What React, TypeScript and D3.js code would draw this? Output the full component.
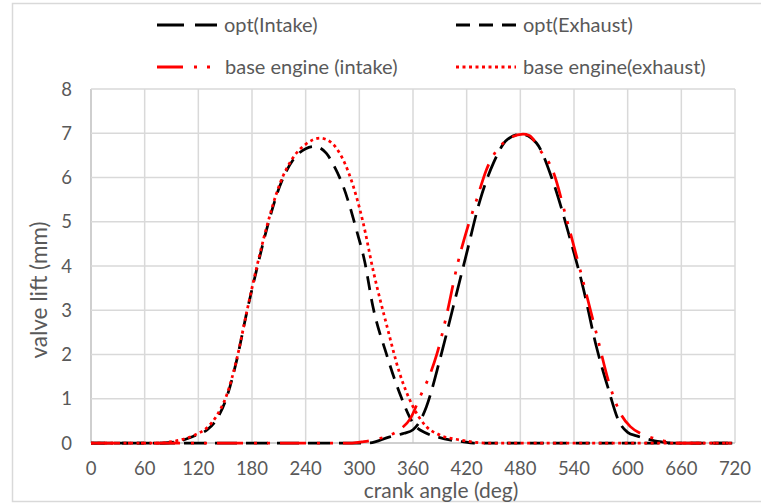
import React from 'react';
import * as d3 from 'd3';

// crank angle (deg) / valve lift (mm)
const optIntakeDeg = [0, 310, 334, 350, 360, 368, 375, 390, 405, 420, 435, 450, 465, 481, 498, 516, 535, 550, 565, 578, 590, 600, 610, 620, 630, 640, 648, 720];
const optIntakeLift = [0, 0, 0.14, 0.22, 0.3, 0.5, 0.82, 1.88, 3.08, 4.29, 5.49, 6.33, 6.85, 6.98, 6.78, 5.94, 4.66, 3.53, 2.18, 1.25, 0.5, 0.24, 0.16, 0.1, 0.05, 0.02, 0, 0];

const optExhaustDeg = [0, 80, 96, 108, 118, 130, 140, 152, 163, 174, 185, 196, 211, 226, 240, 250, 263, 272, 282, 297, 306, 315, 330, 345, 360, 375, 390, 401, 415, 428, 720];
const optExhaustLift = [0, 0, 0.03, 0.1, 0.18, 0.3, 0.52, 1.05, 1.88, 2.94, 3.9, 4.8, 5.8, 6.4, 6.65, 6.7, 6.55, 6.25, 5.8, 4.8, 4.1, 3.1, 2.03, 1.13, 0.45, 0.22, 0.12, 0.07, 0.03, 0, 0];

const baseIntakeDeg = [0, 292, 305, 318, 332, 345, 357, 368, 379, 387, 398, 410, 420, 431, 442, 461, 483, 490, 502, 516, 532, 547, 565, 580, 593, 603, 614, 627, 640, 652, 720];
const baseIntakeLift = [0, 0, 0.03, 0.08, 0.16, 0.3, 0.55, 1.05, 1.55, 2.03, 2.93, 4.06, 4.8, 5.49, 6.17, 6.78, 6.98, 6.95, 6.62, 6.17, 5.04, 3.9, 2.48, 1.3, 0.63, 0.37, 0.22, 0.12, 0.05, 0, 0];

const baseExhaustDeg = [0, 78, 90, 104, 118, 130, 140, 152, 163, 174, 185, 196, 211, 226, 240, 256, 268, 278, 290, 304, 316, 331, 345, 360, 375, 390, 412, 428, 440, 720];
const baseExhaustLift = [0, 0, 0.03, 0.09, 0.2, 0.35, 0.6, 1.1, 1.9, 2.95, 3.95, 4.85, 5.85, 6.45, 6.75, 6.89, 6.8, 6.55, 6.0, 5.0, 3.85, 2.63, 1.58, 0.82, 0.37, 0.18, 0.07, 0.02, 0, 0];

const xTicks = [0, 60, 120, 180, 240, 300, 360, 420, 480, 540, 600, 660, 720];
const yTicks = [0, 1, 2, 3, 4, 5, 6, 7, 8];

const series = [
  { name: 'opt(Intake)', deg: optIntakeDeg, lift: optIntakeLift, color: '#000', dash: '22,9' },
  { name: 'opt(Exhaust)', deg: optExhaustDeg, lift: optExhaustLift, color: '#000', dash: '14,9' },
  { name: 'base engine (intake)', deg: baseIntakeDeg, lift: baseIntakeLift, color: '#ff0000', dash: '26,11,3,10,3,10' },
  { name: 'base engine(exhaust)', deg: baseExhaustDeg, lift: baseExhaustLift, color: '#ff0000', dash: '3,3.5' },
];

const W = 761;
const H = 504;
const margin = { top: 89, right: 26, bottom: 61, left: 91 };
const font = 'Lato, "Open Sans", sans-serif';
const textColor = '#595959';
const gridColor = '#d9d9d9';

const App = () => {
  const x = d3.scaleLinear().domain([0, 720]).range([margin.left, W - margin.right]);
  const y = d3.scaleLinear().domain([0, 8]).range([H - margin.bottom, margin.top]);

  const line = d3.line<[number, number]>()
    .x(d => x(d[0]))
    .y(d => y(d[1]))
    .curve(d3.curveMonotoneX);

  // legend placement: two columns, two rows
  const legendPos = [
    { x: 157, y: 25 },
    { x: 456, y: 25 },
    { x: 157, y: 67 },
    { x: 456, y: 67 },
  ];

  return (
    <svg width={W} height={H} style={{ position: 'absolute', left: 0, top: 0, background: '#fff' }}>
      <rect x={12.5} y={3.5} width={800} height={498} fill="#fff" stroke={gridColor} strokeWidth={1.5} />

      {/* grid */}
      {xTicks.map(t => (
        <line key={'gx' + t} x1={x(t)} x2={x(t)} y1={y(8)} y2={y(0)}
          stroke={t === 0 ? '#bfbfbf' : gridColor} strokeWidth={1.5} />
      ))}
      {yTicks.map(t => (
        <line key={'gy' + t} x1={x(0)} x2={x(720)} y1={y(t)} y2={y(t)}
          stroke={t === 0 ? '#bfbfbf' : gridColor} strokeWidth={1.5} />
      ))}

      {/* tick labels */}
      {xTicks.map(t => (
        <text key={'tx' + t} x={x(t)} y={y(0) + 32} textAnchor="middle"
          fontFamily={font} fontSize={18.5} fill={textColor}>{t}</text>
      ))}
      {yTicks.map(t => (
        <text key={'ty' + t} x={x(0) - 19} y={y(t) + 6.5} textAnchor="end"
          fontFamily={font} fontSize={18.5} fill={textColor}>{t}</text>
      ))}

      {/* axis titles */}
      <text x={441} y={498} textAnchor="middle" fontFamily={font} fontSize={21} fill={textColor}>
        crank angle (deg)
      </text>
      <text transform={`translate(47,${290}) rotate(-90)`} textAnchor="middle"
        fontFamily={font} fontSize={22.5} fill={textColor}>
        valve lift (mm)
      </text>

      {/* curves */}
      {series.map(s => (
        <path key={s.name}
          d={line(s.deg.map((d, i) => [d, s.lift[i]] as [number, number])) || ''}
          fill="none" stroke={s.color} strokeWidth={2.75} strokeDasharray={s.dash} />
      ))}

      {/* legend */}
      {series.map((s, i) => (
        <g key={'lg' + s.name} transform={`translate(${legendPos[i].x},${legendPos[i].y})`}>
          <line x1={0} x2={60} y1={0} y2={0} stroke={s.color} strokeWidth={3} strokeDasharray={i === 0 ? '27,11' : s.dash} />
          <text x={i === 2 ? 68 : 67} y={7} fontFamily={font} fontSize={20} fill={textColor}>{s.name}</text>
        </g>
      ))}
    </svg>
  );
};

export default App;
